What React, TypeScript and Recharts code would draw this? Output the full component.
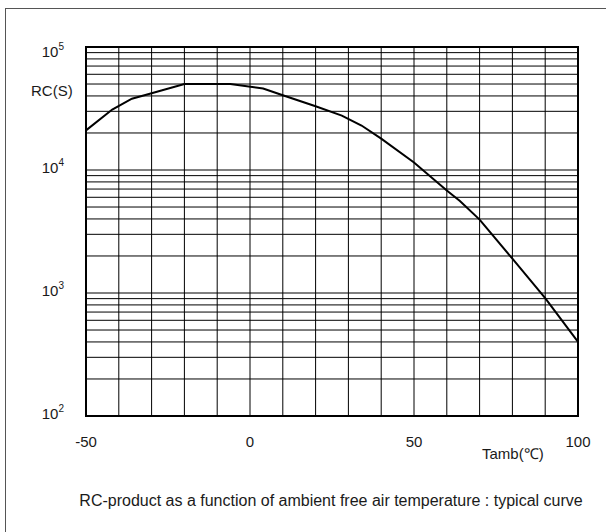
import { LineChart, Line, XAxis, YAxis, CartesianGrid, ReferenceArea, ReferenceLine } from 'recharts'

const temps = [-50, -42, -36, -30, -20, -6, 4, 10, 20, 28, 34, 40, 50, 60, 64, 70, 80, 90, 100]
const rc = [21000, 31000, 38000, 42000, 50000, 50000, 46000, 40500, 33000, 27700, 23000, 18000, 11500, 6800, 5600, 3950, 1900, 910, 400]

const xTicks = [-50, 0, 50, 100]
const yTicks = [100, 1000, 10000, 100000]
const yExp = ['2', '3', '4', '5']
const gridX = [-50, -40, -30, -20, -10, 0, 10, 20, 30, 40, 50, 60, 70, 80, 90, 100]
const gridY = [
  200, 300, 400, 500, 600, 700, 800, 900,
  1000, 2000, 3000, 4000, 5000, 6000, 7000, 8000, 9000,
  10000, 20000, 30000, 40000, 50000, 60000, 70000, 80000, 90000,
]

const data = temps.map((t, i) => ({ t, rc: rc[i] }))

const FONT = '"Liberation Sans", Arial, Helvetica, sans-serif'
const INK = '#1a1a1a'

function YTick(props: any) {
  const { x, y, payload } = props
  const idx = yTicks.indexOf(payload.value)
  const shift = idx === yTicks.length - 1 ? 10 : 3
  return (
    <text x={x - 14} y={y + shift} textAnchor="end" fontFamily={FONT} fontSize={15} fill={INK}>
      10
      <tspan fontSize={10} dy={-7}>{yExp[idx]}</tspan>
    </text>
  )
}

function XTick(props: any) {
  const { x, payload } = props
  return (
    <text x={x} y={447} textAnchor="middle" fontFamily={FONT} fontSize={15} fill={INK}>
      {payload.value}
    </text>
  )
}

export default function App() {
  return (
    <div style={{ position: 'absolute', left: 0, top: 0, width: 606, height: 532, background: '#fff', fontFamily: FONT }}>
      <div style={{ position: 'absolute', left: 5, top: 8, width: 601, height: 524, borderLeft: '1.5px solid #555', borderTop: '1.5px solid #555' }} />
      <LineChart width={606} height={532} data={data} margin={{ top: 47, right: 28, bottom: 86, left: 26 }}>
        <CartesianGrid stroke="#000" strokeWidth={1} horizontal={false} verticalValues={gridX} />
        <XAxis
          dataKey="t"
          type="number"
          domain={[-50, 100]}
          ticks={xTicks}
          tickLine={false}
          axisLine={false}
          tick={<XTick />}
          height={30}
        />
        <YAxis
          type="number"
          scale="log"
          domain={[100, 100000]}
          ticks={yTicks}
          allowDataOverflow
          tickLine={false}
          axisLine={false}
          tick={<YTick />}
          width={60}
        />
        {gridY.map((v) => (
          <ReferenceLine key={v} y={v} stroke="#000" strokeWidth={1} />
        ))}
        <ReferenceArea x1={-50} x2={100} y1={100} y2={100000} fill="none" stroke="#000" strokeWidth={2} ifOverflow="visible" />
        <Line
          dataKey="rc"
          type="linear"
          stroke="#000"
          strokeWidth={2}
          dot={false}
          isAnimationActive={false}
        />
      </LineChart>
      <div style={{ position: 'absolute', left: 31, top: 82, fontSize: 15, color: INK }}>RC(S)</div>
      <div style={{ position: 'absolute', left: 482, top: 443, fontSize: 15, color: INK }}>Tamb(℃)</div>
      <div style={{ position: 'absolute', left: 0, width: 662, top: 492, textAlign: 'center', fontSize: 16, color: INK }}>
        RC-product as a function of ambient free air temperature : typical curve
      </div>
    </div>
  )
}
